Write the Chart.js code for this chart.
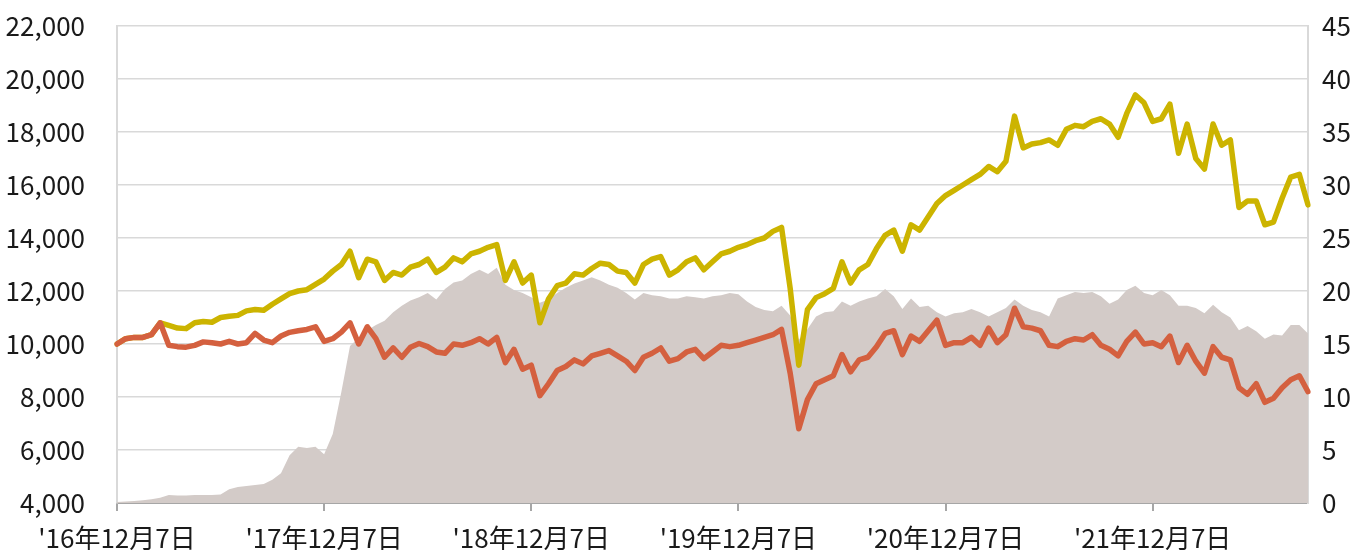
<!DOCTYPE html>
<html>
<head>
<meta charset="utf-8">
<script src="https://cdn.jsdelivr.net/npm/chart.js@4.4.0/dist/chart.umd.min.js"></script>
<style>
    body { margin: 0; background: #fff; }
    #wrap { width: 1370px; height: 550px; }
</style>
</head>
<body>
<div id="wrap"><canvas id="myChart" width="1370" height="550"></canvas></div>
<script>
// x軸の目盛りラベル(毎年12月7日)
var tickLabels = ["'16年12月7日", "'17年12月7日", "'18年12月7日", "'19年12月7日", "'20年12月7日", "'21年12月7日"];

// 黄色の線(左軸)
var yellowLine = [
    10000, 10200, 10250, 10250, 10350, 10800, 10700, 10600, 10580, 10800,
    10850, 10820, 11000, 11050, 11080, 11250, 11300, 11270, 11500, 11700,
    11900, 12000, 12050, 12250, 12450, 12750, 13000, 13500, 12500, 13200,
    13100, 12400, 12700, 12600, 12900, 13000, 13200, 12700, 12900, 13250,
    13100, 13400, 13500, 13650, 13750, 12400, 13100, 12300, 12600, 10800,
    11700, 12200, 12300, 12650, 12600, 12850, 13050, 13000, 12750, 12700,
    12300, 13000, 13200, 13300, 12600, 12800, 13100, 13250, 12800, 13100,
    13400, 13500, 13650, 13750, 13900, 14000, 14250, 14400, 12100, 9200,
    11300, 11750, 11900, 12100, 13100, 12300, 12800, 13000, 13600, 14100,
    14300, 13500, 14500, 14300, 14800, 15300, 15600, 15800, 16000, 16200,
    16400, 16700, 16500, 16900, 18600, 17400, 17550, 17600, 17700, 17500,
    18100, 18250, 18200, 18400, 18500, 18300, 17800, 18700, 19400, 19100,
    18400, 18500, 19050, 17200, 18300, 17000, 16600, 18300, 17500, 17700,
    15150, 15400, 15400, 14500, 14600, 15500, 16300, 16400, 15250
];

// オレンジの線(左軸)
var orangeLine = [
    10000, 10200, 10250, 10250, 10350, 10800, 9950, 9900, 9880, 9950,
    10080, 10050, 10000, 10100, 10000, 10050, 10400, 10150, 10050, 10300,
    10440, 10500, 10550, 10650, 10100, 10200, 10450, 10800, 10000, 10650,
    10200, 9500, 9850, 9500, 9880, 10020, 9900, 9700, 9650, 10000,
    9950, 10050, 10200, 10000, 10250, 9300, 9800, 9050, 9200, 8050,
    8500, 9000, 9150, 9400, 9250, 9550, 9650, 9750, 9550, 9350,
    9000, 9500, 9650, 9850, 9350, 9450, 9700, 9800, 9450, 9700,
    9950, 9900, 9950, 10050, 10150, 10250, 10350, 10550, 8900, 6800,
    7900, 8500, 8650, 8800, 9600, 8950, 9400, 9500, 9900, 10400,
    10500, 9600, 10300, 10100, 10500, 10900, 9950, 10050, 10050, 10250,
    9950, 10600, 10050, 10350, 11350, 10650, 10600, 10500, 9950, 9900,
    10100, 10200, 10150, 10350, 9950, 9800, 9550, 10100, 10450, 10000,
    10050, 9900, 10300, 9300, 9950, 9350, 8900, 9900, 9500, 9400,
    8350, 8100, 8500, 7800, 7950, 8350, 8650, 8800, 8200
];

// グレーの面(右軸)
var grayArea = [
    0.1, 0.15, 0.2, 0.25, 0.35, 0.5, 0.75, 0.7, 0.7, 0.75,
    0.75, 0.75, 0.8, 1.3, 1.5, 1.6, 1.7, 1.8, 2.2, 2.8,
    4.5, 5.3, 5.2, 5.3, 4.6, 6.5, 10.5, 14.8, 15.6, 16.3,
    16.8, 17.2, 18.0, 18.6, 19.1, 19.4, 19.8, 19.2, 20.2, 20.8,
    21.0, 21.6, 22.0, 21.6, 22.2, 20.6, 20.1, 19.8, 19.4, 18.9,
    19.2, 19.8, 20.3, 20.7, 21.0, 21.3, 21.0, 20.6, 20.3, 19.8,
    19.2, 19.8, 19.6, 19.5, 19.3, 19.3, 19.5, 19.4, 19.3, 19.5,
    19.6, 19.8, 19.7, 19.0, 18.5, 18.2, 18.1, 18.6, 17.7, 15.4,
    16.4, 17.6, 18.0, 18.1, 19.0, 18.6, 19.0, 19.3, 19.5, 20.2,
    19.5, 18.3, 19.3, 18.5, 18.6, 18.0, 17.6, 17.9, 18.0, 18.3,
    18.0, 17.6, 18.0, 18.4, 19.2, 18.6, 18.2, 18.0, 17.6, 19.3,
    19.6, 19.9, 19.8, 19.9, 19.5, 18.8, 19.2, 20.1, 20.5, 19.8,
    19.6, 20.1, 19.6, 18.6, 18.6, 18.4, 17.9, 18.7, 18.0, 17.5,
    16.3, 16.7, 16.2, 15.5, 15.9, 15.8, 16.8, 16.8, 16.0
];

var fontFamily = "'Noto Sans CJK JP', 'Noto Sans', sans-serif";

/**
 * 日付ラベル: '16/12 ~ '22/9 の毎月7日と21日
 * @returns {Array}
 */
function buildDates() {
    var dates = [];
    var y = 2016, m = 12;
    while (y < 2022 || (y === 2022 && m <= 9)) {
        var mm = (m < 10 ? '0' : '') + m;
        dates.push(y + '-' + mm + '-07');
        if (!(y === 2022 && m === 9)) {
            dates.push(y + '-' + mm + '-21');
        }
        m++;
        if (m > 12) { m = 1; y++; }
    }
    return dates;
}

/**
 * 縦軸の幅を固定し、ラベルのはみ出し分の余白を消す
 * @param width
 */
function fixYAxis(width) {
    return function (axis) {
        axis.width = width;
        axis.paddingTop = 0;
        axis.paddingBottom = 0;
    };
}

function showChart(ctx, dates) {
    var chart = new Chart(ctx, {
        type: 'line',
        data: {
            labels: dates,
            datasets: [{
                label: 'orange',
                data: orangeLine,
                yAxisID: 'y',
                order: 1,
                borderColor: '#d4603f',
                borderWidth: 5.5,
                borderJoinStyle: 'round',
                borderCapStyle: 'round',
                pointRadius: 0,
                fill: false
            }, {
                label: 'yellow',
                data: yellowLine,
                yAxisID: 'y',
                order: 2,
                borderColor: '#ccb400',
                borderWidth: 5.5,
                borderJoinStyle: 'round',
                borderCapStyle: 'round',
                pointRadius: 0,
                fill: false
            }, {
                label: 'gray',
                data: grayArea,
                yAxisID: 'y2',
                order: 3,
                borderColor: 'rgba(0,0,0,0)',
                borderWidth: 0,
                backgroundColor: '#d3cbc8',
                pointRadius: 0,
                fill: 'origin'
            }]
        },
        options: {
            responsive: false,
            animation: false,
            devicePixelRatio: 1,
            layout: {padding: {top: 26, left: 0, right: 0, bottom: 0}},
            plugins: {legend: {display: false}, tooltip: {enabled: false}},
            scales: {
                x: {
                    type: 'category',
                    offset: false,
                    z: 1,
                    afterBuildTicks: function (axis) {
                        //毎年12月7日だけ残す
                        axis.ticks = axis.ticks.filter(function (t) { return t.value % 24 === 0; });
                    },
                    afterFit: function (axis) {
                        axis.height = 47;
                        axis.paddingLeft = 0;
                        axis.paddingRight = 0;
                    },
                    ticks: {
                        autoSkip: false,
                        maxRotation: 0,
                        padding: 12,
                        color: '#1a1a1a',
                        font: {family: fontFamily, size: 26},
                        callback: function (value) { return tickLabels[value / 24]; }
                    },
                    grid: {display: true, drawOnChartArea: false, drawTicks: true, tickLength: 8, color: '#a6a6a6', lineWidth: 2},
                    border: {display: true, color: '#a6a6a6', width: 2}
                },
                y: {
                    position: 'left',
                    min: 4000,
                    max: 22000,
                    afterFit: fixYAxis(117),
                    ticks: {
                        stepSize: 2000,
                        padding: 32,
                        color: '#1a1a1a',
                        font: {family: fontFamily, size: 26},
                        callback: function (value) { return value.toLocaleString('en-US'); }
                    },
                    grid: {color: '#d9d9d9', lineWidth: 1.5, drawTicks: false},
                    border: {display: true, color: '#d9d9d9', width: 2}
                },
                y2: {
                    position: 'right',
                    min: 0,
                    max: 45,
                    afterFit: fixYAxis(62),
                    ticks: {
                        stepSize: 5,
                        padding: 14,
                        color: '#1a1a1a',
                        font: {family: fontFamily, size: 26}
                    },
                    grid: {display: false, drawTicks: false},
                    border: {display: true, color: '#d9d9d9', width: 2}
                }
            }
        }
    });
    return chart;
}

var ctx = document.getElementById('myChart').getContext('2d');
showChart(ctx, buildDates());
</script>
</body>
</html>
